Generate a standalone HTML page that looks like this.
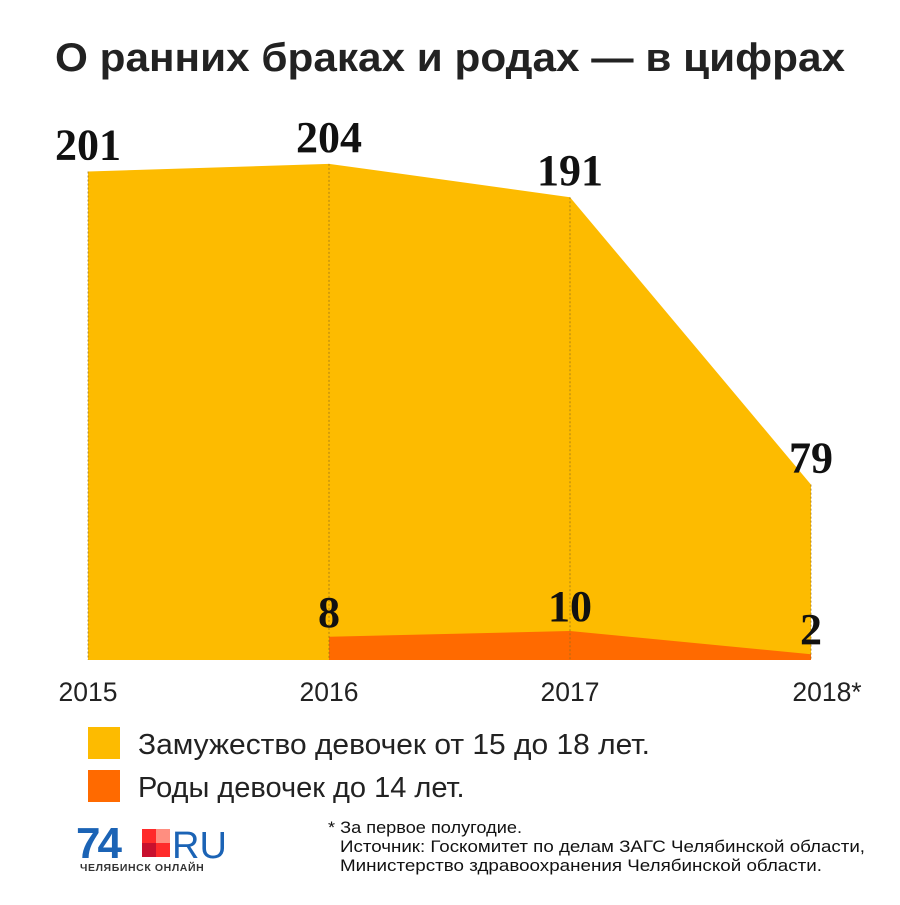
<!DOCTYPE html>
<html><head><meta charset="utf-8"><style>
body{margin:0;background:#fff;width:900px;height:900px;overflow:hidden;font-family:"Liberation Sans",sans-serif}
</style></head><body>
<svg id="chart" width="900" height="900" xmlns="http://www.w3.org/2000/svg">
<text x="450" y="71" text-anchor="middle" font-family="Liberation Sans" font-weight="bold" font-size="40" textLength="790" lengthAdjust="spacingAndGlyphs" fill="#222">О ранних браках и родах — в цифрах</text>
<g id="marks"></g>
<g id="legend">
<rect x="88" y="727" width="32" height="32" fill="#FDBB00"/>
<text x="138" y="754" font-size="29" textLength="512" lengthAdjust="spacingAndGlyphs" fill="#222">Замужество девочек от 15 до 18 лет.</text>
<rect x="88" y="770" width="32" height="32" fill="#FF6A00"/>
<text x="138" y="797" font-size="29" fill="#222">Роды девочек до 14 лет.</text>
</g>
<g>
<text x="76" y="858" font-size="44" font-weight="bold" fill="#1B63B5" letter-spacing="-3">74</text>
<rect x="142" y="829" width="14" height="14" fill="#FF2A2A"/>
<rect x="156" y="829" width="14" height="14" fill="#FF8E80"/>
<rect x="142" y="843" width="14" height="14" fill="#C8102E"/>
<rect x="156" y="843" width="14" height="14" fill="#FF2A2A"/>
<text x="172" y="858" font-size="38" fill="#1B63B5">RU</text>
<text x="80" y="871" font-size="10.5" font-weight="bold" fill="#333" letter-spacing="0.6">ЧЕЛЯБИНСК ОНЛАЙН</text>
</g>
<g font-family="Liberation Sans, sans-serif" font-size="17" fill="#111">
<text x="328" y="833" textLength="194" lengthAdjust="spacingAndGlyphs">* За первое полугодие.</text>
<text x="340" y="852" textLength="525" lengthAdjust="spacingAndGlyphs">Источник: Госкомитет по делам ЗАГС Челябинской области,</text>
<text x="340" y="871" textLength="482" lengthAdjust="spacingAndGlyphs">Министерство здравоохранения Челябинской области.</text>
</g>
</svg>
<script>
const years = ["2015","2016","2017","2018*"];
const marriages = [201, 204, 191, 79];
const births = [null, 8, 10, 2];
const NS = "http://www.w3.org/2000/svg";
const g = document.getElementById("marks");
const base = 660;
function xPos(i){ return 88 + i * 241; }
function yM(v){ return base - (2.566 * v - 27.3); }
function yB(v){ return base - 2.9 * v; }
function mk(tag, attrs){ const e = document.createElementNS(NS, tag); for (const k in attrs) e.setAttribute(k, attrs[k]); g.appendChild(e); return e; }
let d = "M" + xPos(0) + "," + base;
marriages.forEach((v,i)=>{ d += " L" + xPos(i) + "," + yM(v); });
d += " L" + xPos(marriages.length-1) + "," + base + " Z";
const am = mk("path", {d:d, fill:"#FDBB00"});


const bi = births.map((v,i)=>v==null?null:i).filter(i=>i!=null);
let d2 = "M" + xPos(bi[0]) + "," + base;
bi.forEach(i=>{ d2 += " L" + xPos(i) + "," + yB(births[i]); });
d2 += " L" + xPos(bi[bi.length-1]) + "," + base + " Z";
const ab = mk("path", {d:d2, fill:"#FF6A00"});


marriages.forEach((v,i)=>{
  const l = mk("line", {x1:xPos(i), x2:xPos(i), y1:yM(v), y2:base, stroke:"#8a6a20", "stroke-width":1, "stroke-dasharray":"2,2", opacity:0.7});
  
  
  const t = mk("text", {x:xPos(i), y:yM(v) - 12, "text-anchor":"middle", "font-family":"Liberation Serif, serif", "font-weight":"bold", "font-size":44, fill:"#111"});
  t.textContent = v;
  
  
  const y = mk("text", {x:xPos(i) + (i==3?16:0), y:701, "text-anchor":"middle", "font-size":26.5, fill:"#222"});
  y.textContent = years[i];
  
  
});
births.forEach((v,i)=>{
  if (v==null) return;
  const t = mk("text", {x:xPos(i), y:yB(v) - 10, "text-anchor":"middle", "font-family":"Liberation Serif, serif", "font-weight":"bold", "font-size":44, fill:"#111"});
  t.textContent = v;
  
  
});
</script>
</body></html>
